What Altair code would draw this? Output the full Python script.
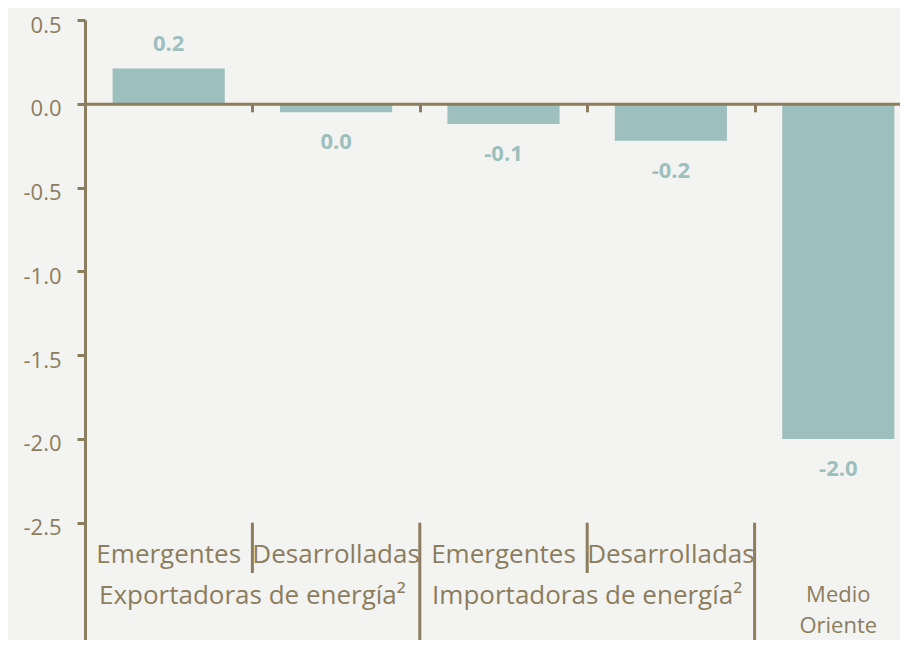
import altair as alt
import pandas as pd

# ---- data ----
cats = ["exp_em", "exp_des", "imp_em", "imp_des", "mo"]
cat_labels = ["Emergentes", "Desarrolladas", "Emergentes", "Desarrolladas", ""]
values = [0.21, -0.05, -0.12, -0.22, -2.0]
value_labels = ["0.2", "0.0", "-0.1", "-0.2", "-2.0"]
y_ticks = [0.5, 0.0, -0.5, -1.0, -1.5, -2.0, -2.5]

group_labels = ["Exportadoras de energía²", "Importadoras de energía²"]
group_at = ["exp_des", "imp_des"]          # centred on the left edge of these bands
mo_label = "Medio\nOriente"

sep_at = ["exp_des", "imp_em", "imp_des", "mo"]
sep_long = [False, True, False, True]

# ---- styling / layout ----
BG = "#f3f3f1"
AX = "#8b7d5e"
BAR = "#9dbfbd"
FONT = "Open Sans"
Y_MIN, Y_MAX = -3.2, 0.5
W, H = 815, 620
X_RANGE = 837          # bands run past the right edge, as in the cropped original
zero_px = H * (Y_MAX - 0) / (Y_MAX - Y_MIN)

ROW1_Y = -2.74
ROW2_Y = -2.985
MO_Y = -2.972
SEP_TOP = -2.5
SEP_SHORT = -2.8

bars_df = pd.DataFrame({"cat": cats, "value": values, "label": value_labels,
                        "catlabel": cat_labels})
groups_df = pd.DataFrame({"cat": group_at, "label": group_labels})
mo_df = pd.DataFrame({"cat": ["mo"], "label": [mo_label]})
sep_df = pd.DataFrame({"cat": sep_at, "y1": [SEP_TOP] * 4,
                       "y2": [Y_MIN if l else SEP_SHORT for l in sep_long]})

xscale = alt.Scale(domain=cats, paddingInner=0, paddingOuter=0, range=[0, X_RANGE])
xaxis = alt.Axis(labels=False, title=None, orient="bottom", offset=-(H - zero_px),
                 domainColor=AX, domainWidth=3, tickColor=AX, tickWidth=3,
                 tickSize=8, tickBand="extent", zindex=1)
yscale = alt.Scale(domain=[Y_MIN, Y_MAX], nice=False, zero=False)
yaxis = alt.Axis(values=y_ticks, title=None, grid=False,
                 labelExpr="(datum.value < 0 ? '-' : '') + format(abs(datum.value), '.1f')",
                 labelFont=FONT, labelFontSize=22, labelColor=AX, labelPadding=16,
                 labelBaseline="alphabetic", labelOffset=12,
                 domainColor=AX, domainWidth=3, tickColor=AX, tickWidth=3, tickSize=8,
                 zindex=1)

X = alt.X("cat:N", sort=cats, scale=xscale, axis=xaxis)
XL = alt.X("cat:N", sort=cats, scale=xscale, axis=xaxis, bandPosition=0)

bars = alt.Chart(bars_df).mark_bar(color=BAR, width={"band": 0.67}).encode(
    x=X, y=alt.Y("value:Q", scale=yscale, axis=yaxis))

pos_lab = alt.Chart(bars_df).transform_filter("datum.value >= 0").mark_text(
    font=FONT, fontSize=22, fontWeight="bold", color=BAR, baseline="alphabetic", dy=-18
).encode(x=X, y=alt.Y("value:Q", scale=yscale, axis=yaxis), text="label:N")

neg_lab = alt.Chart(bars_df).transform_filter("datum.value < 0").mark_text(
    font=FONT, fontSize=22, fontWeight="bold", color=BAR, baseline="alphabetic", dy=37
).encode(x=X, y=alt.Y("value:Q", scale=yscale, axis=yaxis), text="label:N")

cat_text = alt.Chart(bars_df).mark_text(
    font=FONT, fontSize=26, color=AX, baseline="alphabetic"
).encode(x=X, y=alt.datum(ROW1_Y, scale=yscale, axis=yaxis), text="catlabel:N")

group_text = alt.Chart(groups_df).mark_text(
    font=FONT, fontSize=26, color=AX, baseline="alphabetic"
).encode(x=XL, y=alt.datum(ROW2_Y, scale=yscale, axis=yaxis), text="label:N")

mo_text = alt.Chart(mo_df).mark_text(
    font=FONT, fontSize=22, color=AX, baseline="alphabetic", lineBreak="\n", lineHeight=31
).encode(x=X, y=alt.datum(MO_Y, scale=yscale, axis=yaxis), text="label:N")

seps = alt.Chart(sep_df).mark_rule(color=AX, strokeWidth=3).encode(
    x=XL, y=alt.Y("y1:Q", scale=yscale, axis=yaxis), y2="y2:Q")

chart = alt.layer(bars, pos_lab, neg_lab, cat_text, group_text, mo_text, seps).properties(
    width=W, height=H, background=BG,
    autosize=alt.AutoSizeParams(type="none"),
    padding={"left": 77, "top": 12, "right": 0, "bottom": 0},
).configure_view(stroke=None)

chart.save("out.html", embed_options={"renderer": "svg", "actions": False})
